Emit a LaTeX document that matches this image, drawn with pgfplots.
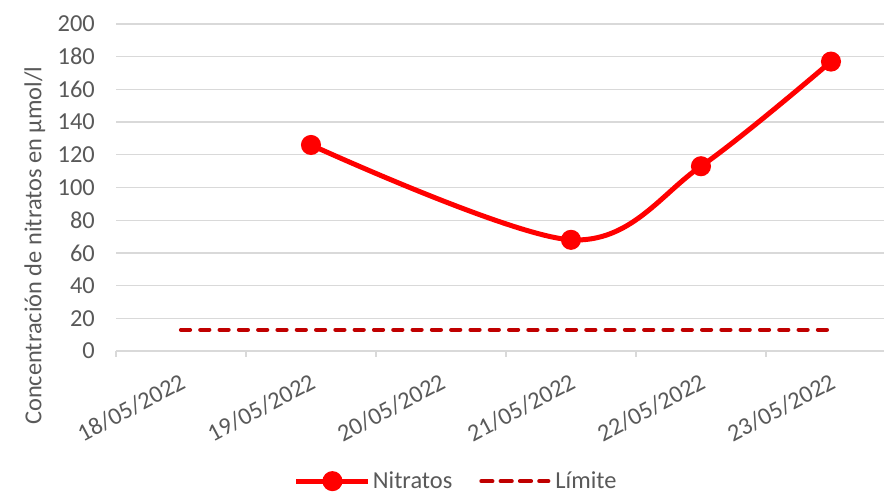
\documentclass[border=0pt]{standalone}
\usepackage{pgfplots}
\pgfplotsset{compat=1.18}
\usepackage{fontspec}
\setmainfont{Carlito}
\definecolor{txt}{HTML}{595959}
\definecolor{gridc}{HTML}{D9D9D9}
\definecolor{nit}{HTML}{FF0000}
\definecolor{lim}{HTML}{C00000}
\pgfplotsset{
  nitleg/.style={legend image code/.code={
    \draw[nit, line width=5bp] (0bp,0bp) -- (72bp,0bp);
    \fill[nit] (36bp,0bp) circle (7.5bp);}},
  limleg/.style={legend image code/.code={
    \draw[lim, line width=4.2bp, line cap=round, dash pattern=on 9bp off 10.3bp] (2bp,0bp) -- (66bp,0bp);
    \path (0bp,0bp) -- (70bp,0bp);}},
}
\begin{document}
\begin{tikzpicture}[x=1bp,y=1bp]
\useasboundingbox (0,0) rectangle (884,498);
\begin{axis}[
  at={(116bp,147bp)}, anchor=south west,
  width=768bp, height=327bp, scale only axis,
  xmin=-0.5, xmax=5.408, ymin=0, ymax=200,
  axis line style={draw=none},
  ytick={0,20,...,200},
  xtick={0,...,5},
  xticklabels={18/05/2022,19/05/2022,20/05/2022,21/05/2022,22/05/2022,23/05/2022},
  major tick length=0pt,
  ymajorgrids, grid style={gridc, line width=1.3bp},
  font=\fontsize{24.5}{28}\selectfont,
  tick label style={text=txt},
  /pgf/number format/assume math mode=true,
  xticklabel style={yshift=-21bp, xshift=-2bp, rotate=28, anchor=north east, inner sep=0pt},
  yticklabel style={anchor=east, inner sep=0pt, xshift=-21bp},
  every axis y label/.style={at={(rel axis cs:-0.1055,0.322)}, rotate=90, anchor=center, text=txt},
  ylabel={Concentración de nitratos en µmol/l},
  legend columns=2,
  legend style={at={(rel axis cs:0.443,-0.398)}, anchor=center, draw=none, fill=none,
    text=txt, font=\fontsize{24.5}{28}\selectfont,
    /tikz/every even column/.append style={column sep=25bp}, inner sep=0pt},
  legend cell align=left,
  clip=false,
]
\draw[gridc, line width=1.3bp] (axis cs:-0.5,0) -- (axis cs:5.408,0);
\pgfplotsinvokeforeach{-0.5,0.5,1.5,2.5,3.5,4.5}{
  \draw[gridc, line width=1.3bp] (axis cs:#1,0) -- ([yshift=-6bp]axis cs:#1,0);
}
\addplot[nit, line width=5bp, smooth, tension=0.55, mark=*, mark size=7.5bp,
  mark options={solid}, nitleg]
  coordinates {(1,126) (3,68) (4,113) (5,177)};
\addlegendentry{Nitratos}
\addplot[lim, line width=4.2bp, line cap=round, dash pattern=on 9bp off 10.3bp, limleg]
  coordinates {(0,13) (1,13) (2,13) (3,13) (4,13) (5,13)};
\addlegendentry{Límite}
\end{axis}
\end{tikzpicture}
\end{document}
